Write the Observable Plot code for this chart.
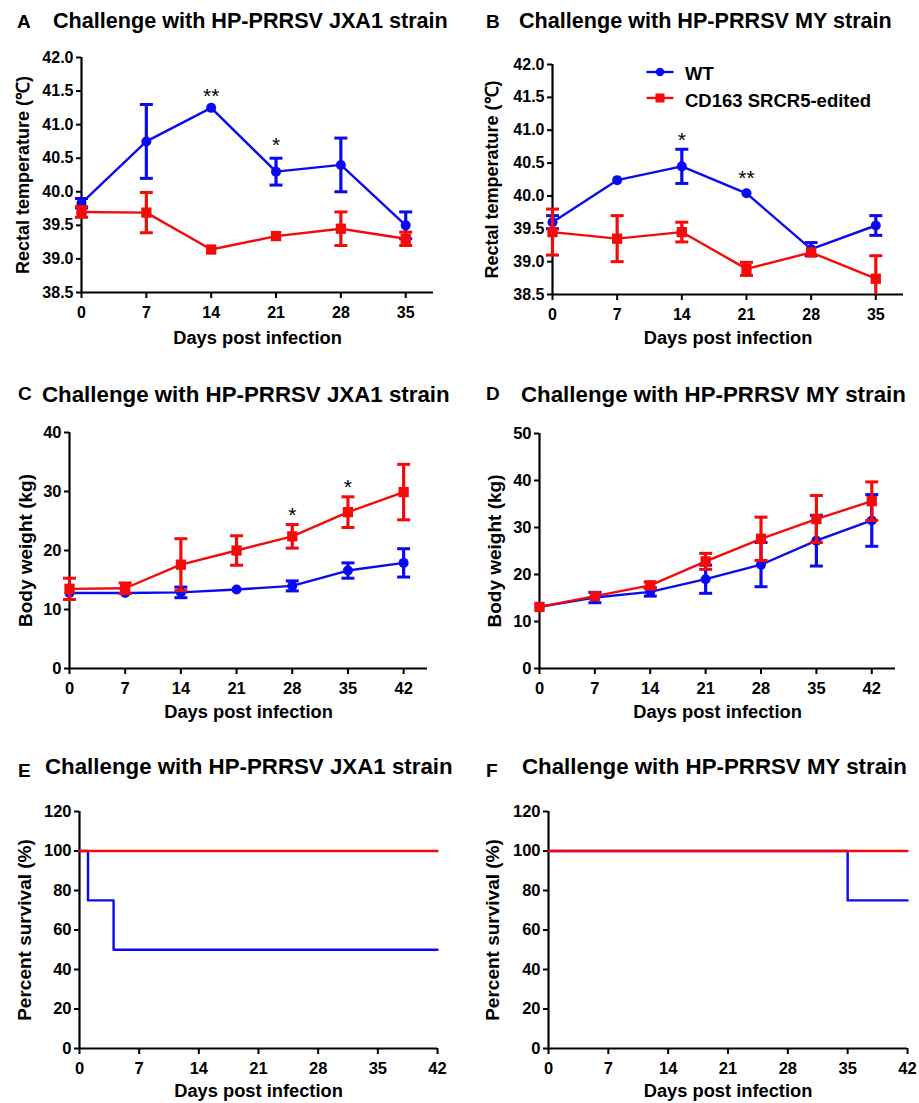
<!DOCTYPE html>
<html>
<head>
<meta charset="utf-8">
<script src="https://cdn.jsdelivr.net/npm/d3@7"></script>
<script src="https://cdn.jsdelivr.net/npm/@observablehq/plot@0.6"></script>
<style>
  html, body { margin: 0; padding: 0; background: #fff; }
  #root { position: relative; width: 919px; height: 1103px; overflow: hidden;
          font-family: "Liberation Sans", Arial, sans-serif; font-weight: bold; color: #000; }
  .abs { position: absolute; white-space: nowrap; line-height: 1; }
  svg { overflow: visible; }
</style>
</head>
<body>
<div id="root"></div>
<script>
// ---------------- data ----------------
const daysTemp = [0, 7, 14, 21, 28, 35];
const daysWeight = [0, 7, 14, 21, 28, 35, 42];
const xTicksTemp = [0, 7, 14, 21, 28, 35];
const xTicksLong = [0, 7, 14, 21, 28, 35, 42];
const yTicksTemp = [38.5, 39.0, 39.5, 40.0, 40.5, 41.0, 41.5, 42.0];
const yTicksWeightC = [0, 10, 20, 30, 40];
const yTicksWeightD = [0, 10, 20, 30, 40, 50];
const yTicksSurv = [0, 20, 40, 60, 80, 100, 120];

const seriesNames = ["WT", "CD163 SRCR5-edited"];
const colors = ["#0a0af0", "#f50a0a"];

// A: rectal temperature, JXA1
const tempJXA1_WT = [39.83, 40.75, 41.25, 40.30, 40.40, 39.50];
const tempJXA1_WT_err = [0.07, 0.55, 0, 0.20, 0.40, 0.20];
const tempJXA1_KO = [39.70, 39.69, 39.14, 39.34, 39.45, 39.30];
const tempJXA1_KO_err = [0.08, 0.30, 0, 0, 0.25, 0.10];
const starsA = [{day: 14, y: 41.50, t: "**"}, {day: 21, y: 40.77, t: "*"}];

// B: rectal temperature, MY
const tempMY_WT = [39.60, 40.24, 40.45, 40.04, 39.19, 39.55];
const tempMY_WT_err = [0.10, 0, 0.26, 0, 0.10, 0.15];
const tempMY_KO = [39.45, 39.35, 39.45, 38.89, 39.14, 38.74];
const tempMY_KO_err = [0.35, 0.35, 0.15, 0.10, 0, 0.35];
const starsB = [{day: 14, y: 40.92, t: "*"}, {day: 21, y: 40.35, t: "**"}];

// C: body weight, JXA1
const weightJXA1_WT = [12.8, 12.8, 12.9, 13.4, 14.0, 16.6, 17.9];
const weightJXA1_WT_err = [0, 0, 0.9, 0, 0.85, 1.3, 2.4];
const weightJXA1_KO = [13.5, 13.6, 17.6, 20.0, 22.4, 26.5, 29.9];
const weightJXA1_KO_err = [1.8, 0.9, 4.4, 2.5, 2.0, 2.6, 4.7];
const starsC = [{day: 28, y: 26.8, t: "*"}, {day: 35, y: 31.6, t: "*"}];

// D: body weight, MY
const weightMY_WT = [13.1, 15.1, 16.3, 19.0, 22.1, 27.2, 31.5];
const weightMY_WT_err = [0, 1.1, 0.9, 3.0, 4.7, 5.4, 5.5];
const weightMY_KO = [13.1, 15.4, 17.7, 22.8, 27.6, 31.8, 35.6];
const weightMY_KO_err = [0, 0, 0.7, 1.7, 4.6, 5.0, 4.1];

// E, F: survival (step points: day, percent)
const survJXA1_WT_days = [0, 1, 4, 42];
const survJXA1_WT_pct = [100, 75, 50, 50];
const survJXA1_KO_days = [0, 42];
const survJXA1_KO_pct = [100, 100];
const survMY_WT_days = [0, 35, 42];
const survMY_WT_pct = [100, 75, 75];
const survMY_KO_days = [0, 42];
const survMY_KO_pct = [100, 100];

const titles = ["Challenge with HP-PRRSV JXA1 strain", "Challenge with HP-PRRSV MY strain"];
const letters = ["A", "B", "C", "D", "E", "F"];
const xLabel = "Days post infection";
const yLabels = ["Rectal temperature (℃)", "Body weight (kg)", "Percent survival (%)"];

// ---------------- helpers ----------------
const root = document.getElementById("root");
const capSymbol = { draw(ctx, size) { const w = Math.sqrt(size / Math.PI); ctx.moveTo(-w, 0); ctx.lineTo(w, 0); } };

function addText(txt, left, baseline, size) {
  const d = document.createElement("div");
  d.className = "abs";
  d.textContent = txt;
  d.style.left = left + "px";
  d.style.top = (baseline - 0.8465 * size) + "px";
  d.style.fontSize = size + "px";
  root.appendChild(d);
}

function rowsOf(days, vals, errs, yMin) {
  return days.map((d, i) => ({day: d, v: vals[i], e: errs[i], lo: Math.max(vals[i] - errs[i], yMin), hi: vals[i] + errs[i], clipped: vals[i] - errs[i] < yMin}));
}

function seriesMarks(rows, color, symbol, r) {
  const withErr = rows.filter(d => d.e > 0);
  return [
    Plot.ruleX(withErr, {x: "day", y1: "lo", y2: "hi", stroke: color, strokeWidth: 3.2}),
    Plot.dot(withErr, {x: "day", y: "hi", symbol: capSymbol, r: 6.5, stroke: color, strokeWidth: 3, fill: "none"}),
    Plot.dot(withErr.filter(d => !d.clipped), {x: "day", y: "lo", symbol: capSymbol, r: 6.5, stroke: color, strokeWidth: 3, fill: "none"}),
    Plot.line(rows, {x: "day", y: "v", stroke: color, strokeWidth: 2.4}),
    Plot.dot(rows, {x: "day", y: "v", symbol, r, fill: color, stroke: "none"})
  ];
}

function axesMarks(cfg) {
  return [
    Plot.ruleX([cfg.xDomain[0]], {stroke: "black", strokeWidth: 2.2}),
    Plot.ruleY([cfg.yDomain[0]], {stroke: "black", strokeWidth: 2.2}),
    Plot.axisX(cfg.xTicks, {tickSize: 6, tickPadding: 8, strokeWidth: 2, fontSize: cfg.tickFont, fontWeight: "bold", label: null, tickFormat: d => String(d)}),
    Plot.axisY(cfg.yTicks, {tickSize: 5, tickPadding: 3, strokeWidth: 2, fontSize: cfg.tickFont, fontWeight: "bold", label: null, tickFormat: cfg.yFmt}),
    Plot.text([cfg.yLabel], {frameAnchor: "left", dx: -cfg.yLabelOff, rotate: -90, textAnchor: "middle", lineAnchor: "middle", fontSize: cfg.yLabelFont, fontWeight: "bold", text: d => d}),
    Plot.text([xLabel], {frameAnchor: "bottom", dy: cfg.xLabelOff, textAnchor: "middle", lineAnchor: "middle", fontSize: 18.3, fontWeight: "bold", text: d => d})
  ];
}

function panel(cfg, marks) {
  const svg = Plot.plot({
    width: cfg.width, height: cfg.height,
    marginLeft: cfg.ml, marginRight: cfg.mr, marginTop: cfg.mt, marginBottom: cfg.mb,
    x: {domain: cfg.xDomain},
    y: {domain: cfg.yDomain},
    style: {fontFamily: "Liberation Sans, Arial, sans-serif", fontWeight: "bold", color: "black", background: "transparent", overflow: "visible"},
    marks: [...axesMarks(cfg), ...marks]
  });
  svg.style.position = "absolute";
  svg.style.left = cfg.left + "px";
  svg.style.top = cfg.top + "px";
  root.appendChild(svg);
}

function starMarks(stars) {
  return [Plot.text(stars, {x: "day", y: "y", text: "t", fontSize: 21, fontWeight: "normal", fontFamily: "Liberation Sans, Arial, sans-serif", lineAnchor: "middle", dy: 5})];
}

// ---------------- titles ----------------
addText(letters[0], 17, 28.3, 19); addText(titles[0], 53, 28.3, 21.6);
addText(letters[1], 486, 28.3, 19); addText(titles[1], 519, 28.3, 21.6);
addText(letters[2], 18, 400, 19); addText(titles[0], 42, 403, 22.3);
addText(letters[3], 486, 400, 19); addText(titles[1], 521, 403, 22.3);
addText(letters[4], 18, 777, 19); addText(titles[0], 45, 775, 22.3);
addText(letters[5], 486, 777, 19); addText(titles[1], 522, 775, 22.3);

const fmt1 = d3.format(".1f");
const fmt0 = d => String(d);

// A
panel({left: 0, top: 40, width: 460, height: 315, ml: 81, mr: 27, mt: 17, mb: 63,
       xDomain: [0, 38], yDomain: [38.5, 42], xTicks: xTicksTemp, yTicks: yTicksTemp, yFmt: fmt1,
       yLabel: yLabels[0], yLabelOff: 58, yLabelFont: 18, xLabelOff: 46, tickFont: 16},
  [...seriesMarks(rowsOf(daysTemp, tempJXA1_WT, tempJXA1_WT_err, 38.5), colors[0], "circle", 5),
   ...seriesMarks(rowsOf(daysTemp, tempJXA1_KO, tempJXA1_KO_err, 38.5), colors[1], "square", 5.8),
   ...starMarks(starsA)]);

// B
panel({left: 460, top: 40, width: 459, height: 315, ml: 92, mr: 16, mt: 24, mb: 61,
       xDomain: [0, 38], yDomain: [38.5, 42], xTicks: xTicksTemp, yTicks: yTicksTemp, yFmt: fmt1,
       yLabel: yLabels[0], yLabelOff: 60, yLabelFont: 18, xLabelOff: 44, tickFont: 16},
  [...seriesMarks(rowsOf(daysTemp, tempMY_WT, tempMY_WT_err, 38.5), colors[0], "circle", 5),
   ...seriesMarks(rowsOf(daysTemp, tempMY_KO, tempMY_KO_err, 38.5), colors[1], "square", 5.8),
   ...starMarks(starsB)]);

// C
panel({left: 0, top: 415, width: 460, height: 310, ml: 69, mr: 33, mt: 17, mb: 57,
       xDomain: [0, 45], yDomain: [0, 40], xTicks: xTicksLong, yTicks: yTicksWeightC, yFmt: fmt0,
       yLabel: yLabels[1], yLabelOff: 44, yLabelFont: 19, xLabelOff: 44, tickFont: 16.5},
  [...seriesMarks(rowsOf(daysWeight, weightJXA1_WT, weightJXA1_WT_err, 0), colors[0], "circle", 5),
   ...seriesMarks(rowsOf(daysWeight, weightJXA1_KO, weightJXA1_KO_err, 0), colors[1], "square", 5.8),
   ...starMarks(starsC)]);

// D
panel({left: 460, top: 415, width: 459, height: 310, ml: 79, mr: 24, mt: 18, mb: 57,
       xDomain: [0, 45], yDomain: [0, 50], xTicks: xTicksLong, yTicks: yTicksWeightD, yFmt: fmt0,
       yLabel: yLabels[1], yLabelOff: 45, yLabelFont: 19, xLabelOff: 44, tickFont: 16.5},
  [...seriesMarks(rowsOf(daysWeight, weightMY_WT, weightMY_WT_err, 0), colors[0], "circle", 5),
   ...seriesMarks(rowsOf(daysWeight, weightMY_KO, weightMY_KO_err, 0), colors[1], "square", 5.8)]);

// E, F survival
function survMarks(days, pct, color) {
  const rows = days.map((d, i) => ({day: d, p: pct[i]}));
  return Plot.line(rows, {x: "day", y: "p", curve: "step-after", stroke: color, strokeWidth: 2.4});
}
panel({left: 0, top: 795, width: 460, height: 308, ml: 79, mr: 23, mt: 16, mb: 55,
       xDomain: [0, 42], yDomain: [0, 120], xTicks: xTicksLong, yTicks: yTicksSurv, yFmt: fmt0,
       yLabel: yLabels[2], yLabelOff: 55, yLabelFont: 19, xLabelOff: 43, tickFont: 16.5},
  [survMarks(survJXA1_WT_days, survJXA1_WT_pct, colors[0]),
   survMarks(survJXA1_KO_days, survJXA1_KO_pct, colors[1])]);

panel({left: 460, top: 795, width: 459, height: 308, ml: 88, mr: 12, mt: 16, mb: 55,
       xDomain: [0, 42], yDomain: [0, 120], xTicks: xTicksLong, yTicks: yTicksSurv, yFmt: fmt0,
       yLabel: yLabels[2], yLabelOff: 56, yLabelFont: 19, xLabelOff: 43, tickFont: 16.5},
  [survMarks(survMY_WT_days, survMY_WT_pct, colors[0]),
   survMarks(survMY_KO_days, survMY_KO_pct, colors[1])]);

// ---------------- legend (panel B) ----------------
(function legend() {
  const ns = "http://www.w3.org/2000/svg";
  const sw = document.createElementNS(ns, "svg");
  sw.setAttribute("width", 30); sw.setAttribute("height", 40);
  sw.style.position = "absolute"; sw.style.left = "645px"; sw.style.top = "62px";
  const ys = [10, 36];
  ys.forEach((y, i) => {
    const l = document.createElementNS(ns, "line");
    l.setAttribute("x1", 1.5); l.setAttribute("x2", 28.5); l.setAttribute("y1", y); l.setAttribute("y2", y);
    l.setAttribute("stroke", colors[i]); l.setAttribute("stroke-width", 2.4);
    sw.appendChild(l);
    if (i === 0) {
      const c = document.createElementNS(ns, "circle");
      c.setAttribute("cx", 15); c.setAttribute("cy", y); c.setAttribute("r", 4.2); c.setAttribute("fill", colors[i]);
      sw.appendChild(c);
    } else {
      const r = document.createElementNS(ns, "rect");
      r.setAttribute("x", 10.5); r.setAttribute("y", y - 4.5); r.setAttribute("width", 9); r.setAttribute("height", 9); r.setAttribute("fill", colors[i]);
      sw.appendChild(r);
    }
  });
  root.appendChild(sw);
  addText(seriesNames[0], 685, 81, 18.5);
  addText(seriesNames[1], 685, 108, 18.5);
})();
</script>
</body>
</html>
